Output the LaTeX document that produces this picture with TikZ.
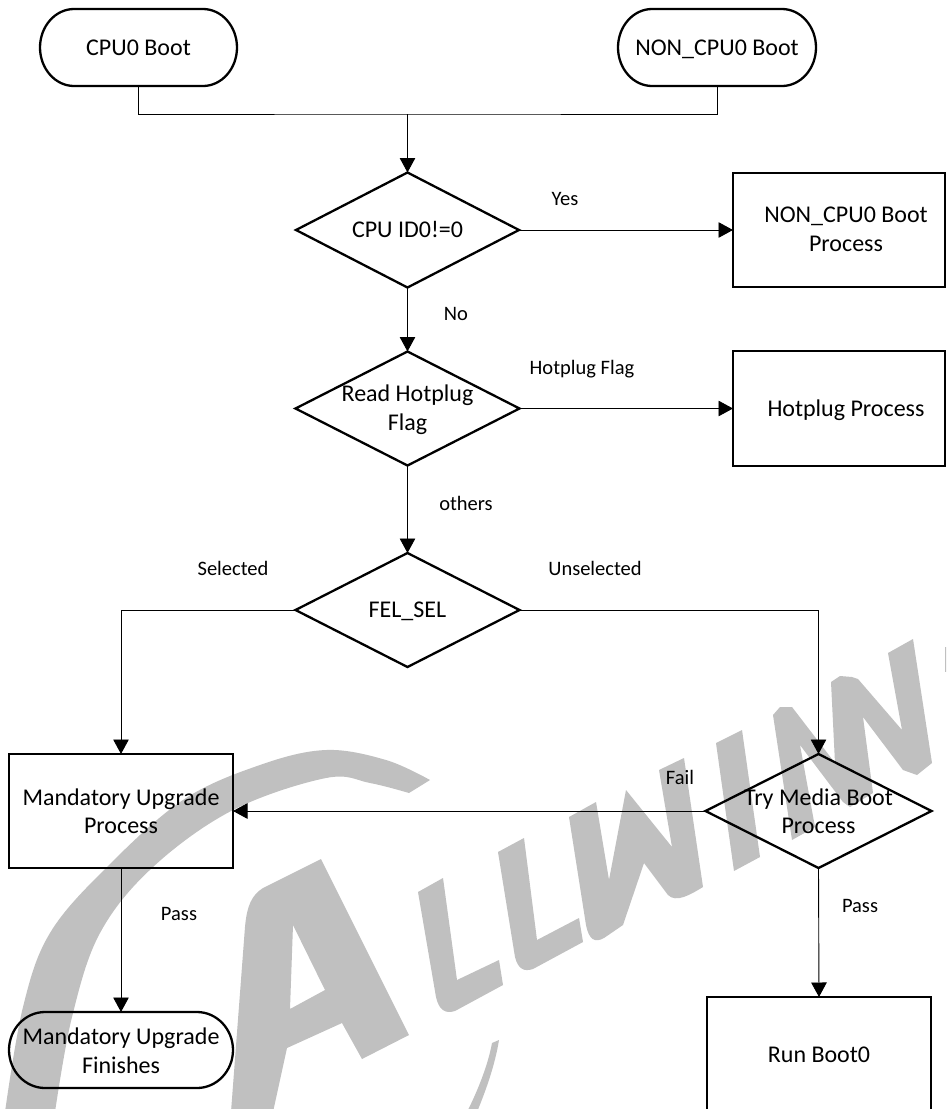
\documentclass[tikz,border=0pt]{standalone}
\usepackage{fontspec}
\setmainfont{Carlito}
\usetikzlibrary{arrows.meta,shapes.geometric,calc}
\definecolor{wmgray}{HTML}{C0C0C0}
\tikzset{
  nodetext/.style={font=\fontsize{24}{28.5}\selectfont,align=center,inner sep=0pt,outer sep=0pt},
  lbl/.style={font=\fontsize{20.5}{24}\selectfont,inner sep=0pt,outer sep=0pt},
  heavy/.style={line width=2.3pt,black},
  boxnode/.style={nodetext,rectangle,draw,heavy},
  dia/.style={nodetext,diamond,draw,heavy,aspect=1.94},
  termnode/.style={nodetext,rectangle},
  conn/.style={line width=0.9pt,black},
  arr/.style={conn,-{Triangle[length=14.5pt,width=15.5pt]}},
  wm/.style={fill=wmgray,draw=none}
}
\newcommand{\termoutline}[3]{%
  \draw[heavy] ($(#1.north west)+(#2,0)$) -- ($(#1.north east)+(-#2,0)$)
    .. controls ($(#1.north east)+(-0.45*#2,0)$) and ($(#1.east)+(0,-0.55*#3)$) .. (#1.east)
    .. controls ($(#1.east)+(0,0.55*#3)$) and ($(#1.south east)+(-0.45*#2,0)$) .. ($(#1.south east)+(-#2,0)$)
    -- ($(#1.south west)+(#2,0)$)
    .. controls ($(#1.south west)+(0.45*#2,0)$) and ($(#1.west)+(0,0.55*#3)$) .. (#1.west)
    .. controls ($(#1.west)+(0,-0.55*#3)$) and ($(#1.north west)+(0.45*#2,0)$) .. ($(#1.north west)+(#2,0)$) -- cycle;}
% \ptext{downward shift}{rightward shift x2}{lines}
\newcommand{\ptext}[3]{\makebox[0pt]{\hspace*{#2}\raisebox{-#1}[\height][\depth]{\begin{tabular}{@{}c@{}}#3\end{tabular}}}}
\begin{document}
\begin{tikzpicture}[x=1pt,y=-1pt]
\useasboundingbox (0,0) rectangle (946,1109);
\clip (0,0) rectangle (946,1109);
\fill[white] (0,0) rectangle (946,1109);
% watermark
\fill[wm] plot[smooth,tension=.6] coordinates {(5,1112)(23,1007)(50,933)(107,867)(183,800)(260,765)(326,750)(386,760)(430,780)}
  -- plot[smooth,tension=.6] coordinates {(409,793)(370,783)(326,778)(233,810)(153,867)(100,933)(72,1017)(55,1112)} -- cycle;
\fill[wm,even odd rule] (321,859) -- (409,1035) -- (362,1059) -- (342,1023) -- (287,1048) -- (273,1112) -- (231,1112) -- (245,927) .. controls (247,905) and (252,895) .. (263,888) -- cycle
  (293,925) -- (325,990) -- (290,1009) -- cycle;
\fill[wm] (443,878) -- (418,892) -- (436,997) .. controls (439,1010) and (445,1014) .. (455,1011) -- (503,985) -- (499,960) -- (457,980) -- cycle;
\fill[wm] (524,838) -- (498,852) -- (515,957) .. controls (518,969) and (524,972) .. (533,969) -- (583,942) -- (579,918) -- (537,940) -- cycle;
\fill[wm] (596,802) -- (569,817) -- (586,925) .. controls (589,940) and (595,943) .. (604,938) -- (623,925) -- (644,863) -- (668,895) .. controls (676,903) and (690,895) .. (703,887) -- (684,758) -- (659,770) -- (672,847) -- (626,790) -- (609,880) -- cycle;
\fill[wm] (742,730) -- (716,743) -- (734,871) -- (760,857) -- cycle;
\fill[wm] (773,715) -- (780,707) -- (792,707) -- (835,763) -- (831,682) -- (840,676) -- (852,677) -- (858,679) -- (902,730) -- (888,653) -- (913,639) -- (932,763) -- (917,775) -- (903,770) -- (863,717) -- (873,793) -- (850,807) -- (843,802) -- (800,745) -- (815,827) -- (792,840) -- cycle;
\fill[wm] (945,647) -- (947,647) -- (947,672) -- (945,672) -- cycle;
\fill[wm] (499,1040) -- (492,1043) .. controls (488,1065) and (478,1090) .. (467,1112) -- (477,1112) .. controls (486,1090) and (495,1065) .. (499,1040) -- cycle;
% terminators
\node[termnode,minimum width=197pt,minimum height=77pt] (cpu) at (138.5,47.5) {\ptext{2pt}{0pt}{CPU0 Boot}};
\node[termnode,minimum width=198pt,minimum height=77pt] (noncpu) at (717,47.5) {\ptext{2pt}{0pt}{NON\_CPU0 Boot}};
\node[termnode,minimum width=224pt,minimum height=76pt] (mfin) at (121,1050) {\ptext{3.5pt}{0pt}{Mandatory Upgrade\\Finishes}};
\termoutline{cpu}{34}{38.5}
\termoutline{noncpu}{34}{38.5}
\termoutline{mfin}{36}{38}
% decisions
\node[dia,minimum width=223pt,minimum height=115pt] (d1) at (407.5,230) {\ptext{2pt}{0pt}{CPU ID0!=0}};
\node[dia,minimum width=224pt,minimum height=114pt] (d2) at (407.5,408.5) {\ptext{2pt}{0pt}{Read Hotplug\\Flag}};
\node[dia,minimum width=224pt,minimum height=114pt] (d3) at (407.5,610) {\ptext{2pt}{0pt}{FEL\_SEL}};
\node[dia,minimum width=226pt,minimum height=114pt] (d4) at (818.5,811) {\ptext{3pt}{0pt}{Try Media Boot\\Process}};
% boxes
\node[boxnode,minimum width=212pt,minimum height=114pt] (b1) at (839,230) {\ptext{1.5pt}{14pt}{NON\_CPU0 Boot\\Process}};
\node[boxnode,minimum width=212pt,minimum height=115pt] (b2) at (839,408.5) {\ptext{2pt}{14pt}{Hotplug Process}};
\node[boxnode,minimum width=224pt,minimum height=114pt] (mand) at (121,811) {\ptext{3pt}{0pt}{Mandatory Upgrade\\Process}};
\node[boxnode,minimum width=224pt,minimum height=118pt] (boot) at (819,1056) {\ptext{1pt}{0pt}{Run Boot0}};
% connectors
\coordinate (bus) at (407.5,114);
\draw[conn] (cpu.south) |- (bus) -| (noncpu.south);
\draw[arr] (bus) -- (d1.north);
\draw[arr] (d1.east) -- (b1.west);
\draw[arr] (d1.south) -- (d2.north);
\draw[arr] (d2.east) -- (b2.west);
\draw[arr] (d2.south) -- (d3.north);
\draw[arr] (d3.west) -| (mand.north);
\draw[arr] (d3.east) -| (d4.north);
\draw[arr] (d4.west) -- (mand.east);
\draw[arr] (mand.south) -- (mfin.north);
\draw[arr] (d4.south) -- (boot.north);
% labels
\node[lbl] (lyes) at (565,199) {Yes};
\node[lbl] (lno) at (456,314) {No};
\node[lbl] (lhot) at (582,369) {Hotplug Flag};
\node[lbl] (loth) at (466,503) {others};
\node[lbl] (lsel) at (233,568) {Selected};
\node[lbl] (luns) at (595,568) {Unselected};
\node[lbl] (lfail) at (680,777) {Fail};
\node[lbl] (lp1) at (179,914) {Pass};
\node[lbl] (lp2) at (860,906) {Pass};
\end{tikzpicture}
\end{document}
